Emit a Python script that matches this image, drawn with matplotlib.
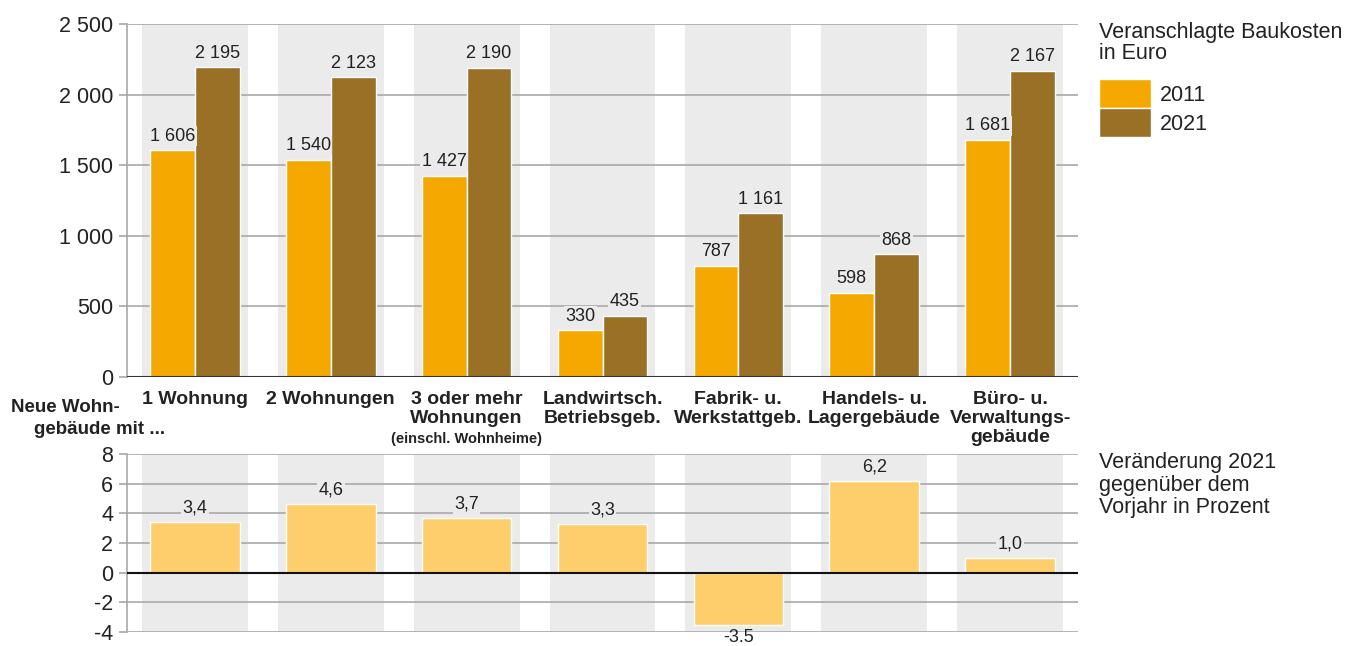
import numpy as np
import matplotlib.pyplot as plt
from matplotlib.ticker import FuncFormatter

plt.rcParams['font.family'] = ['Liberation Sans', 'DejaVu Sans']
plt.rcParams['axes.unicode_minus'] = False

categories = ['1 Wohnung', '2 Wohnungen', '3 oder mehr\nWohnungen', 'Landwirtsch.\nBetriebsgeb.',
              'Fabrik- u.\nWerkstattgeb.', 'Handels- u.\nLagergebäude', 'Büro- u.\nVerwaltungs-\ngebäude']
costs_2011 = [1606, 1540, 1427, 330, 787, 598, 1681]
costs_2021 = [2195, 2123, 2190, 435, 1161, 868, 2167]
change_pct = [3.4, 4.6, 3.7, 3.3, -3.5, 6.2, 1.0]
change_labels = ['3,4', '4,6', '3,7', '3,3', '-3.5', '6,2', '1,0']
cost_ticks = [0, 500, 1000, 1500, 2000, 2500]
change_ticks = [-4, -2, 0, 2, 4, 6, 8]

c2011 = '#F5A800'
c2021 = '#997026'
cchg = '#FECE6C'
band = '#EBEBEB'
gridc = '#A8A8A8'
txt = '#222222'


def thousands(v, pos=None):
    return '{:,}'.format(int(v)).replace(',', ' ')


def style_axis(ax):
    # grey category bands behind everything
    for i in range(len(categories)):
        ax.axvspan(i - 0.39, i + 0.39, color=band, lw=0, zorder=0)
    ax.set_xlim(-0.5, len(categories) - 0.5)
    ax.set_xticks([])
    ax.yaxis.grid(True, color=gridc, lw=1.2)
    ax.set_axisbelow(True)
    for s in ['top', 'right', 'bottom']:
        ax.spines[s].set_visible(False)
    ax.spines['left'].set_color(gridc)
    ax.spines['left'].set_linewidth(1.2)
    ax.tick_params(axis='y', length=6, width=1.2, color=gridc, labelsize=15.5, labelcolor=txt, pad=4)


fig = plt.figure(figsize=(13.55, 6.46), dpi=100)
W, H = 1355, 646
ax1 = fig.add_axes([127 / W, 1 - 377 / H, 951 / W, 353 / H])
ax2 = fig.add_axes([127 / W, 1 - 632 / H, 951 / W, 178 / H])

x = np.arange(len(categories))
w = 0.33

# top chart: construction costs
style_axis(ax1)
ax1.set_ylim(0, 2500)
ax1.set_yticks(cost_ticks)
ax1.yaxis.set_major_formatter(FuncFormatter(thousands))
b1 = ax1.bar(x - w / 2, costs_2011, w, color=c2011, edgecolor='white', lw=1, zorder=2, label='2011')
b2 = ax1.bar(x + w / 2, costs_2021, w, color=c2021, edgecolor='white', lw=1, zorder=2, label='2021')
ax1.axhline(0, color='#333333', lw=1.5, zorder=3)
for xs, vals in [(x - w / 2, costs_2011), (x + w / 2, costs_2021)]:
    for xi, v in zip(xs, vals):
        ax1.annotate(thousands(v), (xi, v), xytext=(0, 4), textcoords='offset points',
                     ha='center', va='bottom', fontsize=13, color=txt, zorder=4,
                     bbox=dict(fc=band, ec='none', pad=1))

for xi, lab in zip(x, categories):
    ax1.text(xi, -0.04, lab, transform=ax1.get_xaxis_transform(), ha='center', va='top',
             fontsize=14, fontweight='bold', color=txt, linespacing=1.14)
ax1.text(2, -0.155, '(einschl. Wohnheime)', transform=ax1.get_xaxis_transform(), ha='center',
         va='top', fontsize=10.5, fontweight='bold', color=txt)
fig.text(65 / W, 1 - 408 / H, 'Neue Wohn-', ha='center', va='center',
         fontsize=13.5, fontweight='bold', color=txt)
fig.text(100 / W, 1 - 429 / H, 'gebäude mit ...', ha='center', va='center',
         fontsize=13.5, fontweight='bold', color=txt)

fig.text(1099 / W, 1 - 22 / H, 'Veranschlagte Baukosten\nin Euro', ha='left', va='top',
         fontsize=15.5, color=txt, linespacing=1.0)
leg = fig.legend(handles=[b1, b2], loc='upper left', bbox_to_anchor=(1099 / W, 1 - 79 / H),
                 frameon=False, fontsize=15.5, handlelength=2.4, handleheight=1.7,
                 handletextpad=0.42, labelspacing=0.0, borderpad=0, borderaxespad=0)
for t in leg.get_texts():
    t.set_color(txt)

# bottom chart: change in percent
style_axis(ax2)
ax2.set_ylim(-4, 8)
ax2.set_yticks(change_ticks)
ax2.bar(x, change_pct, 0.66, color=cchg, edgecolor='white', lw=1, zorder=2)
ax2.axhline(0, color='#111111', lw=1.5, zorder=3)
for xi, v, lab in zip(x, change_pct, change_labels):
    if v >= 0:
        ax2.annotate(lab, (xi, v), xytext=(0, 4), textcoords='offset points', ha='center',
                     va='bottom', fontsize=13, color=txt, zorder=4,
                     bbox=dict(fc=band, ec='none', pad=1))
    else:
        ax2.annotate(lab, (xi, v), xytext=(0, -3), textcoords='offset points', ha='center',
                     va='top', fontsize=13, color=txt, zorder=4, annotation_clip=False)

fig.text(1099 / W, 1 - 452 / H, 'Veränderung 2021\ngegenüber dem\nVorjahr in Prozent',
         ha='left', va='top', fontsize=15.5, color=txt, linespacing=1.1)

fig.savefig('out.png', dpi=100)
